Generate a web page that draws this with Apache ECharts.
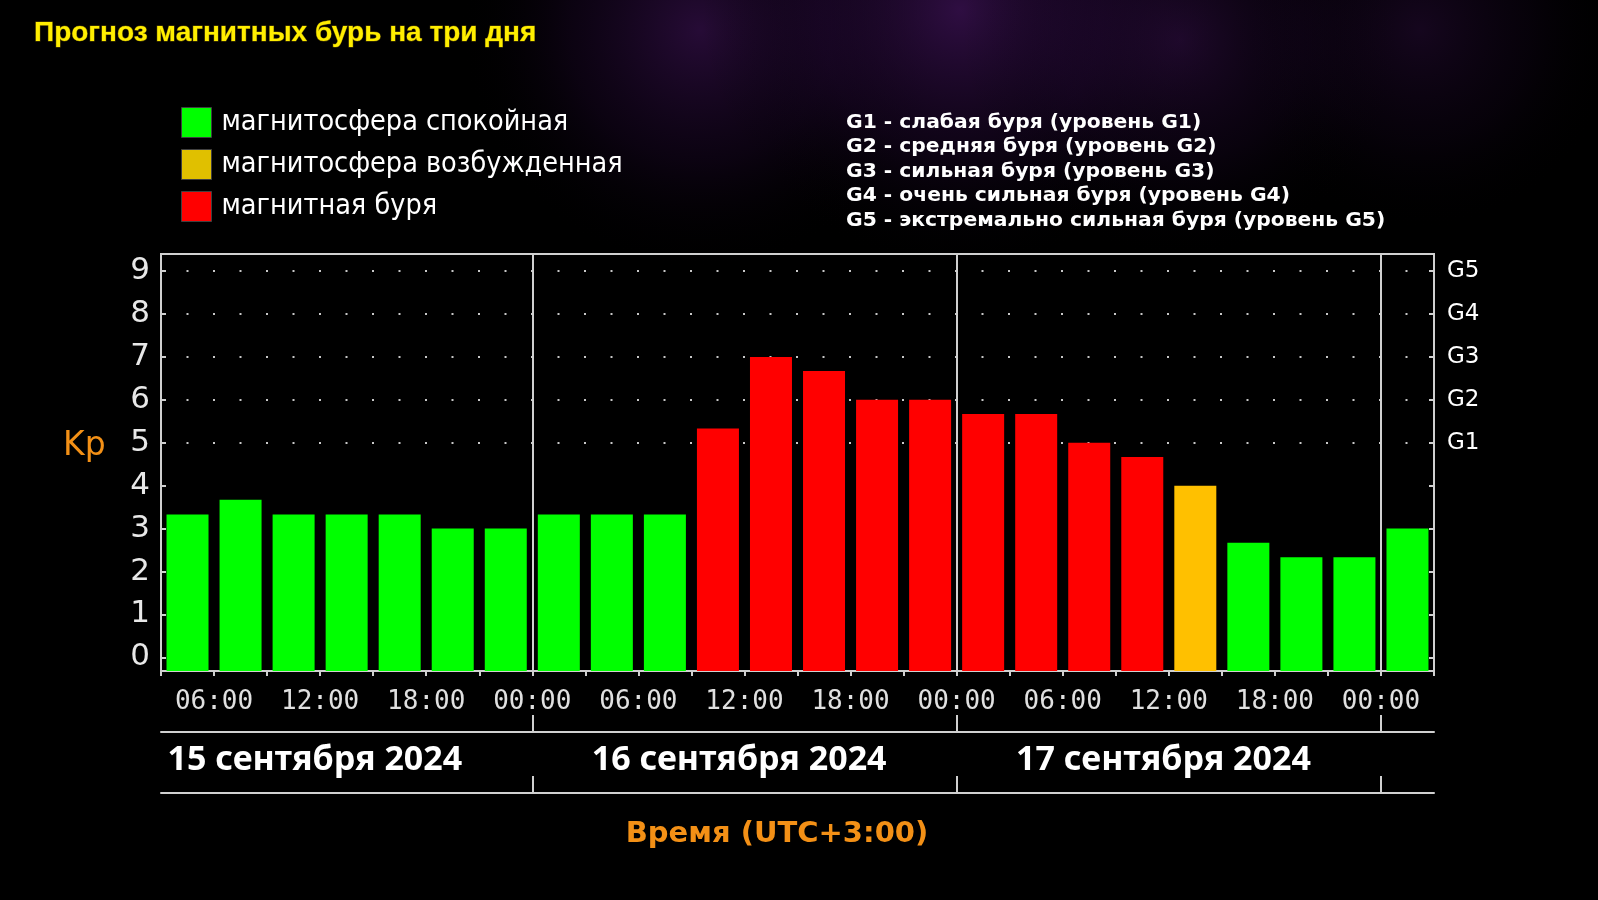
<!DOCTYPE html>
<html>
<head>
<meta charset="utf-8">
<title>Прогноз магнитных бурь</title>
<script src="https://cdn.jsdelivr.net/npm/echarts@6/dist/echarts.min.js"></script>
<style>
	body { margin: 0; background: #000; }
	#kpchart { width: 1598px; height: 900px; }
</style>
</head>
<body>
<div id="kpchart"></div>
<script>
// Kp по трёхчасовым интервалам, 15.09 03:00 .. 18.09 03:00
var kpValues = [3.33, 3.67, 3.33, 3.33, 3.33, 3.00, 3.00,
	3.33, 3.33, 3.33, 5.33, 7.00, 6.67, 6.00, 6.00,
	5.67, 5.67, 5.00, 4.67, 4.00, 2.67, 2.33, 2.33,
	3.00];
var hourLabels = ['06:00', '12:00', '18:00', '00:00',
	'06:00', '12:00', '18:00', '00:00',
	'06:00', '12:00', '18:00', '00:00'];
var hourTicks = [1, 3, 5, 7, 9, 11, 13, 15, 17, 19, 21, 23];
var dayLabels = ['15 сентября 2024', '16 сентября 2024', '17 сентября 2024'];
var dayCenters = [2.9, 10.9, 18.9];
var dayBounds = [7, 15, 23];
var kpTicks = [0, 1, 2, 3, 4, 5, 6, 7, 8, 9];
var gTicks = [5, 6, 7, 8, 9];
var gLabels = ['G1', 'G2', 'G3', 'G4', 'G5'];
var legendNames = ['магнитосфера спокойная', 'магнитосфера возбужденная', 'магнитная буря'];
var legendColors = ['#00ff00', '#e0c000', '#ff0000'];
var barColors = ['#00ff00', '#ffc000', '#ff0000'];
var gNotes = [
	'G1 - слабая буря (уровень G1)',
	'G2 - средняя буря (уровень G2)',
	'G3 - сильная буря (уровень G3)',
	'G4 - очень сильная буря (уровень G4)',
	'G5 - экстремально сильная буря (уровень G5)'
];

var yMin = -0.32;
var yMax = 9.4;
var lineColor = '#d0d0d0';

function kpLevel(kp){
	if(kp >= 4.5){
		return 2;
	}
	if(kp >= 4){
		return 1;
	}
	return 0;
}

function buildSeries(){
	var series = [];
	for(var s = 0; s < 3; s++){
		var data = [];
		for(var i = 0; i < kpValues.length; i++){
			if(kpLevel(kpValues[i]) == s){
				data.push([i + 0.5, kpValues[i]]);
			}
		}
		series.push({
			name: legendNames[s],
			type: 'bar',
			barWidth: 42,
			barGap: '-100%',
			itemStyle: { color: barColors[s] },
			data: data
		});
	}
	series[0].markLine = {
		silent: true,
		symbol: 'none',
		label: { show: false },
		lineStyle: { color: lineColor, width: 2, type: 'solid' },
		data: dayBounds.map(function(x){ return { xAxis: x }; })
	};
	return series;
}

// фиолетовое свечение вверху
function glow(cx, cy, r, alpha){
	return {
		type: 'circle',
		z: -10,
		silent: true,
		shape: { cx: cx, cy: cy, r: r },
		style: {
			fill: {
				type: 'radial', x: 0.5, y: 0.5, r: 0.5,
				colorStops: [
					{ offset: 0, color: 'rgba(85, 25, 120, ' + alpha + ')' },
					{ offset: 0.55, color: 'rgba(50, 12, 75, ' + (alpha * 0.5) + ')' },
					{ offset: 1, color: 'rgba(0, 0, 0, 0)' }
				]
			}
		}
	};
}

function initChart(){
	var chart = echarts.init(document.getElementById('kpchart'));
	var option = {
		animation: false,
		backgroundColor: '#000',
		title: {
			text: 'Прогноз магнитных бурь на три дня',
			left: 29,
			top: 14,
			textStyle: {
				color: '#ffee00',
				fontSize: 28,
				fontWeight: 'bold',
				fontFamily: '"Liberation Sans Narrow", "Liberation Sans", sans-serif',
				textBorderColor: '#5a4a00',
				textBorderWidth: 1
			}
		},
		legend: {
			orient: 'vertical',
			left: 181,
			top: 107,
			padding: 0,
			itemWidth: 30,
			itemHeight: 30,
			itemGap: 11,
			selectedMode: false,
			icon: 'rect',
			textStyle: {
				color: '#ffffff',
				fontSize: 28.5,
				fontFamily: '"DejaVu Sans Condensed", "DejaVu Sans", sans-serif',
				padding: [0, 0, 0, 5]
			},
			data: legendNames.map(function(name, i){
				return { name: name, itemStyle: { color: legendColors[i], borderColor: '#404040', borderWidth: 1 } };
			})
		},
		grid: {
			left: 161,
			right: 164,
			top: 254,
			bottom: 229,
			show: true,
			borderColor: lineColor,
			borderWidth: 2,
			backgroundColor: 'transparent'
		},
		xAxis: [{
			type: 'value',
			min: 0,
			max: 24,
			interval: 1,
			position: 'bottom',
			axisLine: { onZero: false, lineStyle: { color: lineColor, width: 2 } },
			axisTick: { show: true, length: 5, lineStyle: { color: lineColor, width: 2 } },
			axisLabel: {
				customValues: hourTicks,
				margin: 18,
				color: '#e0e0e0',
				fontSize: 26,
				fontFamily: '"DejaVu Sans Mono", monospace',
				formatter: function(v){
					return hourLabels[hourTicks.indexOf(v)] || '';
				}
			},
			splitLine: { show: false }
		}, {
			type: 'value',
			min: 0,
			max: 24,
			position: 'bottom',
			offset: 61,
			axisLine: { onZero: false, lineStyle: { color: lineColor, width: 2 } },
			axisTick: { show: true, inside: true, length: 17, customValues: dayBounds, lineStyle: { color: lineColor, width: 2 } },
			axisLabel: {
				customValues: dayCenters,
				margin: 11,
				color: '#ffffff',
				fontSize: 34,
				fontWeight: 'bold',
				fontFamily: '"Noto Sans", sans-serif',
				formatter: function(v){
					return dayLabels[dayCenters.indexOf(v)] || '';
				}
			},
			splitLine: { show: false }
		}, {
			type: 'value',
			min: 0,
			max: 24,
			position: 'bottom',
			offset: 122,
			axisLine: { onZero: false, lineStyle: { color: lineColor, width: 2 } },
			axisTick: { show: true, inside: true, length: 17, customValues: dayBounds, lineStyle: { color: lineColor, width: 2 } },
			axisLabel: { show: false },
			splitLine: { show: false }
		}],
		yAxis: [{
			type: 'value',
			min: yMin,
			max: yMax,
			startValue: yMin,
			position: 'left',
			axisLine: { show: true, onZero: false, lineStyle: { color: lineColor, width: 2 } },
			axisTick: { show: true, inside: true, length: 5, customValues: kpTicks, lineStyle: { color: lineColor, width: 2 } },
			axisLabel: {
				customValues: kpTicks,
				margin: 11,
				color: '#e8e8e8',
				fontSize: 31,
				fontFamily: '"DejaVu Sans", sans-serif'
			},
			splitLine: { show: false }
		}, {
			type: 'value',
			min: yMin,
			max: yMax,
			position: 'right',
			axisLine: { show: true, onZero: false, lineStyle: { color: lineColor, width: 2 } },
			axisTick: { show: true, inside: true, length: 5, customValues: kpTicks, lineStyle: { color: lineColor, width: 2 } },
			axisLabel: {
				customValues: gTicks,
				margin: 13,
				color: '#ffffff',
				fontSize: 23,
				fontFamily: '"DejaVu Sans", sans-serif',
				formatter: function(v){
					return gLabels[gTicks.indexOf(v)] || '';
				}
			},
			splitLine: { show: false }
		}, {
			type: 'value',
			min: yMin,
			max: yMax,
			position: 'left',
			axisLine: { show: false, onZero: false },
			axisTick: { show: false, customValues: gTicks },
			axisLabel: { show: false },
			splitLine: {
				show: true,
				lineStyle: { color: '#c8c8c8', width: 2, type: [2, 24.5], dashOffset: 1 }
			}
		}],
		graphic: [
			glow(700, 30, 240, 0.45),
			glow(960, 10, 260, 0.55),
			glow(1180, 40, 220, 0.35),
			glow(1420, 30, 200, 0.25),
			{
				type: 'text',
				left: 63,
				top: 430,
				style: {
					text: 'Kp',
					fill: '#f39016',
					fontSize: 33,
					fontFamily: '"DejaVu Sans", sans-serif'
				}
			}, {
				type: 'text',
				left: 846,
				top: 110,
				style: {
					text: gNotes.join('\n'),
					fill: '#ffffff',
					fontSize: 20.3,
					lineHeight: 24.5,
					fontWeight: 'bold',
					fontFamily: '"DejaVu Sans", sans-serif'
				}
			}, {
				type: 'text',
				x: 777,
				y: 834,
				style: {
					text: 'Время (UTC+3:00)',
					fill: '#f39016',
					fontSize: 29,
					fontWeight: 'bold',
					align: 'center',
					verticalAlign: 'middle',
					fontFamily: '"DejaVu Sans", sans-serif'
				}
			}
		],
		series: buildSeries()
	};
	chart.setOption(option);
}

(function init(){
	initChart();
})();
</script>
</body>
</html>
